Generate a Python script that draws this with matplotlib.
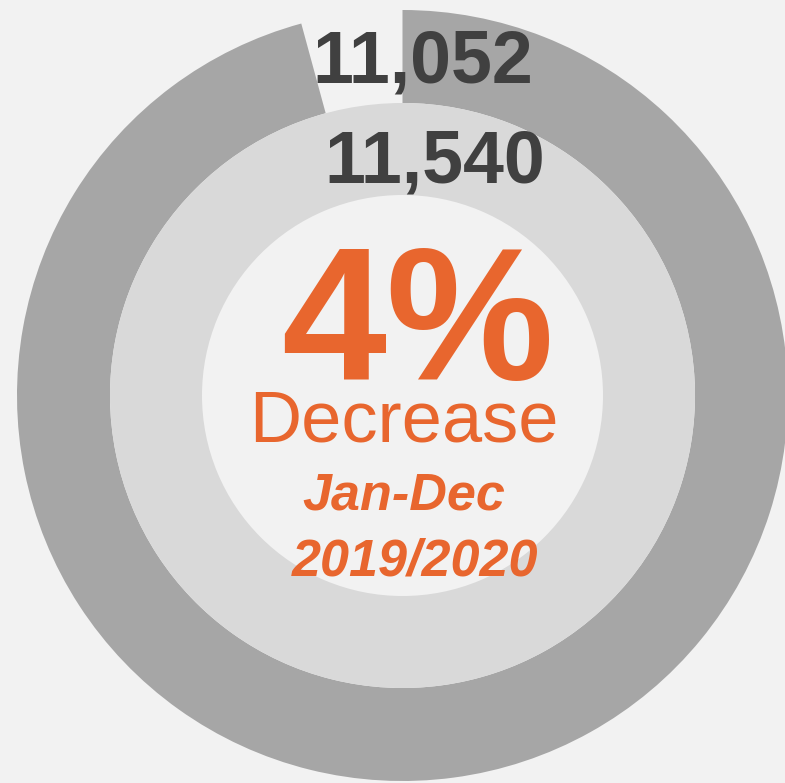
import matplotlib.pyplot as plt

# ring values: outer = 2020 total, inner = 2019 total
outer_value = 11052
inner_value = 11540
outer_label = "11,052"
inner_label = "11,540"
change_text = "4%"
change_word = "Decrease"
period_lines = ["Jan-Dec", "2019/2020"]

BG = "#f2f2f2"
OUTER_COL = "#a6a6a6"
INNER_COL = "#d9d9d9"
TEXT_DARK = "#404040"
ORANGE = "#e8662e"

W, H = 785, 783
cx, cy = 402.5, H - 395.5

fig = plt.figure(figsize=(W / 100, H / 100), dpi=100, facecolor=BG)
ax = fig.add_axes([0, 0, 1, 1])
ax.set_facecolor(BG)

# outer ring, remainder left blank so the gap shows the drop
ax.pie([outer_value, inner_value - outer_value], radius=385.5, center=(cx, cy),
       startangle=90, counterclock=False, colors=[OUTER_COL, "none"],
       wedgeprops=dict(width=93, linewidth=0))

# inner ring, full circle
ax.pie([inner_value], radius=292.5, center=(cx, cy), startangle=90,
       counterclock=False, colors=[INNER_COL],
       wedgeprops=dict(width=92, linewidth=0))

ax.set_xlim(0, W)
ax.set_ylim(0, H)
ax.set_aspect("equal")
ax.axis("off")

font = "Liberation Sans"
ax.text(422.5, H - 83, outer_label, ha="center", va="baseline", fontsize=53,
        fontweight="bold", color=TEXT_DARK, family=font)
ax.text(435, H - 183, inner_label, ha="center", va="baseline", fontsize=53,
        fontweight="bold", color=TEXT_DARK, family=font)

ax.text(418, H - 380, change_text, ha="center", va="baseline", fontsize=136,
        fontweight="bold", color=ORANGE, family=font)
ax.text(404, H - 442, change_word, ha="center", va="baseline", fontsize=52,
        color=ORANGE, family=font)
ax.text(403.5, H - 510, period_lines[0], ha="center", va="baseline", fontsize=37.5,
        fontweight="bold", fontstyle="italic", color=ORANGE, family=font)
ax.text(415, H - 575, period_lines[1], ha="center", va="baseline", fontsize=37.5,
        fontweight="bold", fontstyle="italic", color=ORANGE, family=font)

fig.savefig("out.png", dpi=100, facecolor=BG)
